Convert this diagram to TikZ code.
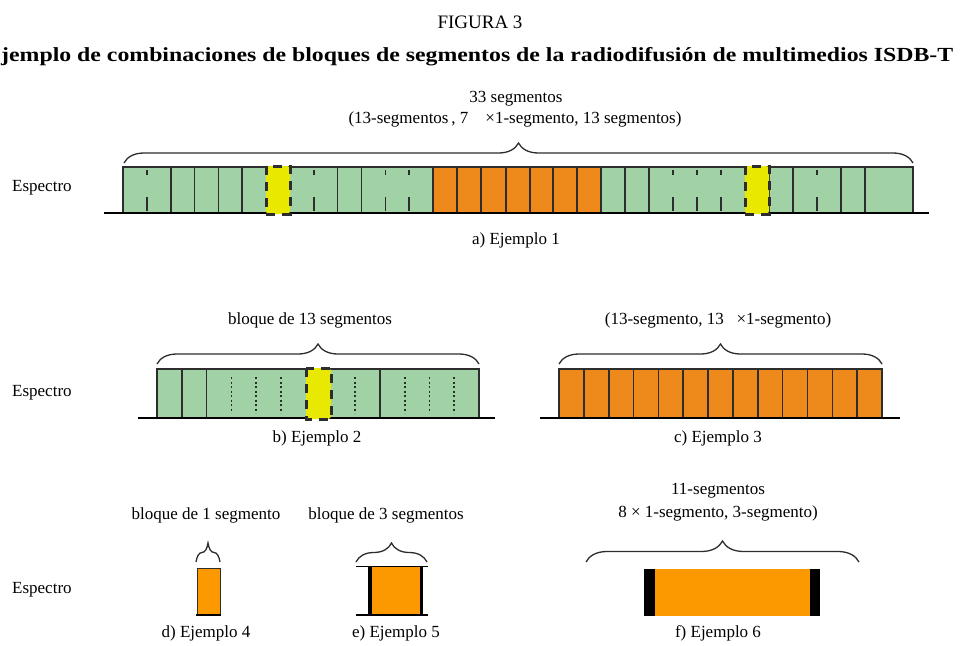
\documentclass[tikz,border=0pt]{standalone}
\usepackage{fontspec}
\setmainfont{Liberation Serif}
\usetikzlibrary{decorations.pathreplacing}
\definecolor{verde}{RGB}{160,210,165}
\definecolor{naranja}{RGB}{238,138,28}
\definecolor{naranjaclaro}{RGB}{252,152,0}
\definecolor{amarillo}{RGB}{232,232,0}
\definecolor{linea}{RGB}{45,45,45}

\begin{document}
\begin{tikzpicture} [
  x=1pt, y=-1pt,
  every node/.style={font=\fontsize{17}{19}\selectfont, inner sep=0},
  seg/.style={draw=linea, line width=1.6pt},
  tick/.style={draw=linea, line width=1.6pt, dash pattern=on 0pt off 3pt on 5pt off 22pt on 14pt off 10pt},
  punto/.style={draw=linea, line width=1.6pt, dash pattern=on 2pt off 2.5pt},
  eje/.style={draw=black, line width=1.3pt},
  bloque/.style={fill=amarillo, rounded corners=3pt},
  borde/.style={draw=linea, line width=3pt, dash pattern=on 9pt off 7pt},
  llave/.style={decorate, decoration={brace, amplitude=#1}, draw=linea, line width=1.3pt}
  ]
  \useasboundingbox (0,0) rectangle (960,645);
  % titulo
  \node [font=\fontsize{19}{21}\selectfont] (fig) at (480,22) {FIGURA 3};
  \node [anchor=west, font=\fontsize{20}{22}\selectfont\bfseries] (tit) at (1,57)
    {\scalebox{1.19}[1]{jemplo de combinaciones de bloques de segmentos de la radiodifusión de multimedios ISDB-T}};

  % a) Ejemplo 1
  \node (a1) at (516,99) {33 segmentos};
  \node (a2) at (515,119) {(13-segmentos\,, 7\ \ \ \ ×1-segmento, 13 segmentos)};
  \coordinate (al) at (124,163);
  \coordinate (ar) at (913,163);
  \draw [llave=20pt] (al) -- (ar);
  \fill [verde] (123,167) rectangle (433,213);
  \fill [naranja] (433,167) rectangle (601,213);
  \fill [verde] (601,167) rectangle (913,213);
  \foreach \x in {433,457,481,506,530,553,577,601}
    \draw [seg] (\x,167) -- (\x,213);
  \foreach \i in {2,3,4,5,9,10}
    \draw [seg] ({123+\i*23.85},167) -- ++(0,46);
  \foreach \i in {1,8,11,12}
    \draw [tick] ({123+\i*23.85},167) -- ++(0,46);
  \foreach \i in {1,2,7,8,10,11}
    \draw [seg] ({601+\i*24},167) -- ++(0,46);
  \foreach \i in {3,4,5,9}
    \draw [tick] ({601+\i*24},167) -- ++(0,46);
  \draw [seg] (123,167) rectangle (913,213);
  \draw [eje] (104,213) -- (929,213);
  \fill [bloque] (266,166) rectangle (290,214);
  \draw [borde] (266,166) rectangle (290,214);
  \fill [bloque] (745,166) rectangle (769,214);
  \draw [borde] (745,166) rectangle (769,214);
  \node (la) at (516,240) {a) Ejemplo 1};

  % b) Ejemplo 2
  \node (b1) at (310,320) {bloque de 13 segmentos};
  \coordinate (bl) at (157,364);
  \coordinate (br) at (479,364);
  \draw [llave=20pt] (bl) -- (br);
  \fill [verde] (157,369) rectangle (479,418);
  \foreach \i in {1,2,9}
    \draw [seg] ({157+\i*24.77},369) -- ++(0,49);
  \foreach \i in {3,4,5,8,10,11,12}
    \draw [punto] ({157+\i*24.77},377) -- ++(0,36);
  \draw [seg] (157,369) rectangle (479,418);
  \draw [eje] (138,418) -- (495,418);
  \fill [bloque] (306,368) rectangle (331,419);
  \draw [borde] (306,368) rectangle (331,419);
  \node (lb) at (317,438) {b) Ejemplo 2};

  % c) Ejemplo 3
  \node (c1) at (718,320) {(13-segmento, 13\ \ \ ×1-segmento)};
  \coordinate (cl) at (559,364);
  \coordinate (cr) at (882,364);
  \draw [llave=20pt] (cl) -- (cr);
  \fill [naranja] (559,369) rectangle (882,418);
  \foreach \i in {1,...,12}
    \draw [seg] ({559+\i*24.85},369) -- ++(0,49);
  \draw [seg] (559,369) rectangle (882,418);
  \draw [eje] (540,418) -- (900,418);
  \node (lc) at (718,438) {c) Ejemplo 3};

  % d) Ejemplo 4
  \node (d1) at (206,515) {bloque de 1 segmento};
  \coordinate (dl) at (196,562);
  \coordinate (dr) at (220,562);
  \draw [llave=19pt] (dl) -- (dr);
  \fill [naranjaclaro] (197,568) rectangle (220,615);
  \draw [draw=linea, line width=1pt] (197,568) rectangle (220,615);
  \draw [eje] (196,615) -- (221,615);
  \node (ld) at (206,633) {d) Ejemplo 4};

  % e) Ejemplo 5
  \node (e1) at (386,515) {bloque de 3 segmentos};
  \coordinate (el) at (356,562);
  \coordinate (er) at (427,562);
  \draw [llave=19pt] (el) -- (er);
  \fill [naranjaclaro] (368,566) rectangle (423,615);
  \fill [black] (368,566) rectangle (372,615);
  \fill [black] (420,566) rectangle (423,615);
  \draw [draw=black, line width=1pt] (356,566) -- (428,566);
  \draw [eje] (356,615) -- (428,615);
  \node (le) at (396,633) {e) Ejemplo 5};

  % f) Ejemplo 6
  \node (f1) at (718,491) {11-segmentos};
  \node (f2) at (718,513) {8 × 1-segmento, 3-segmento)};
  \coordinate (fl) at (586,562);
  \coordinate (fr) at (859,562);
  \draw [llave=21pt] (fl) -- (fr);
  \fill [naranjaclaro] (644,569) rectangle (820,616);
  \fill [black] (644,569) rectangle (655,616);
  \fill [black] (810,569) rectangle (820,616);
  \node (lf) at (718,633) {f) Ejemplo 6};

  % espectro
  \node [anchor=west] (ea) at (12,188) {Espectro};
  \node [anchor=west] (eb) at (12,393) {Espectro};
  \node [anchor=west] (ec) at (12,590) {Espectro};
\end{tikzpicture}
\end{document}
